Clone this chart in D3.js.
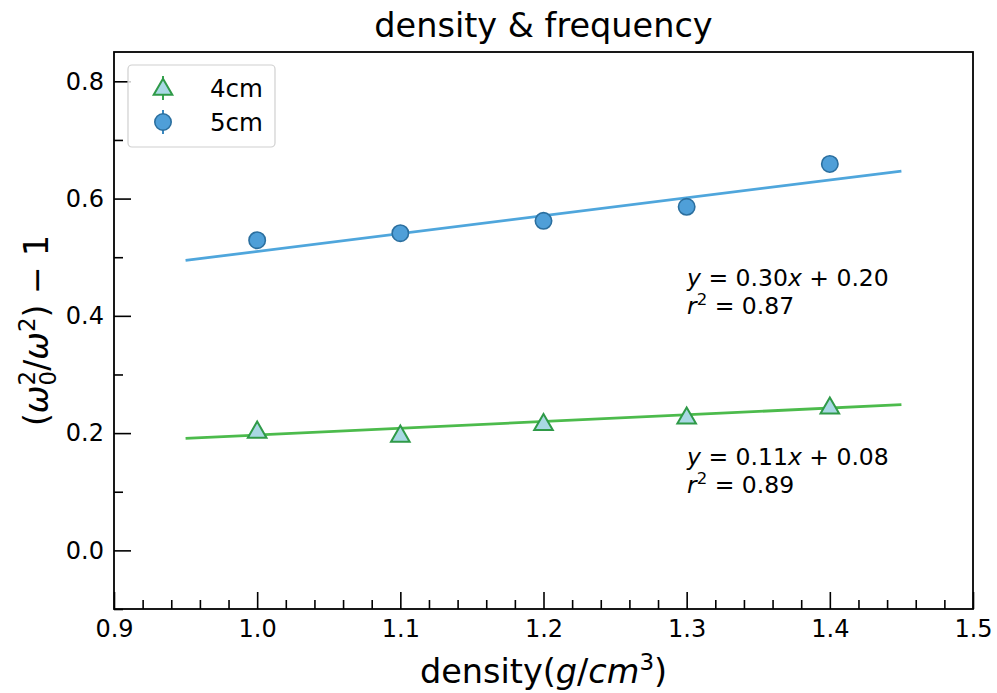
<!DOCTYPE html>
<html>
<head>
<meta charset="utf-8">
<script src="https://cdn.jsdelivr.net/npm/d3@7"></script>
<style>
  html, body { margin: 0; padding: 0; background: #fff; }
  svg { display: block; font-family: "DejaVu Sans", sans-serif; }
</style>
</head>
<body>
<svg id="chart" width="997" height="693"></svg>
<script>
// Measured density values (g/cm^3)
const density = [1.0, 1.1, 1.2, 1.3, 1.4];
// (w0^2 / w^2) - 1 for each tube length
const ratio4cm = [0.204, 0.197, 0.217, 0.228, 0.245];
const ratio5cm = [0.529, 0.541, 0.562, 0.586, 0.659];
const seriesNames = ["4cm", "5cm"];
// Linear fit coefficients and goodness of fit for each series
const fitSlope = [0.1149, 0.3049];
const fitIntercept = [0.0819, 0.2049];
const fitR2 = [0.89, 0.87];
const fitRange = [0.95, 1.45];
// Axis ticks
const xTicks = [0.9, 1.0, 1.1, 1.2, 1.3, 1.4, 1.5];
const yTicks = [0.0, 0.2, 0.4, 0.6, 0.8];

const svg = d3.select("#chart");
const plotLeft = 114, plotRight = 973, plotTop = 52, plotBottom = 609;

const x = d3.scaleLinear().domain([0.9, 1.5]).range([plotLeft, plotRight]);
const y = d3.scaleLinear().domain([-0.1, 0.85]).range([plotBottom, plotTop]);

const fmt = d3.format(".2f");

// Minor ticks
const xMinor = d3.range(0.9, 1.5001, 0.02).filter(v => Math.abs(v * 10 - Math.round(v * 10)) > 1e-6);
const yMinor = [-0.1, 0.1, 0.3, 0.5, 0.7];

const gx = svg.append("g").attr("transform", `translate(0,${plotBottom})`);
gx.call(d3.axisBottom(x).tickValues(xTicks).tickFormat(d3.format(".1f")).tickSizeInner(-17).tickSizeOuter(0).tickPadding(11));
const gxm = svg.append("g").attr("transform", `translate(0,${plotBottom})`);
gxm.call(d3.axisBottom(x).tickValues(xMinor).tickFormat("").tickSizeInner(-9).tickSizeOuter(0));

const gy = svg.append("g").attr("transform", `translate(${plotLeft},0)`);
gy.call(d3.axisLeft(y).tickValues(yTicks).tickFormat(d3.format(".1f")).tickSizeInner(-17).tickSizeOuter(0).tickPadding(10));
const gym = svg.append("g").attr("transform", `translate(${plotLeft},0)`);
gym.call(d3.axisLeft(y).tickValues(yMinor).tickFormat("").tickSizeInner(-9).tickSizeOuter(0));

[gx, gxm, gy, gym].forEach(g => {
  g.select(".domain").remove();
  g.selectAll(".tick line").attr("stroke", "#000").attr("stroke-width", 1.6);
  g.selectAll(".tick text").attr("fill", "#000").attr("font-size", 24)
    .attr("font-family", "DejaVu Sans, sans-serif");
});

// Frame
svg.append("rect")
  .attr("x", plotLeft).attr("y", plotTop)
  .attr("width", plotRight - plotLeft).attr("height", plotBottom - plotTop)
  .attr("fill", "none").attr("stroke", "#000").attr("stroke-width", 1.8);

// Fit lines
const lineColors = ["#4cbb4c", "#4fa6dc"];
const line = d3.line().x(d => x(d[0])).y(d => y(d[1]));
[0, 1].forEach(i => {
  const pts = fitRange.map(v => [v, fitSlope[i] * v + fitIntercept[i]]);
  svg.append("path").attr("d", line(pts))
    .attr("fill", "none").attr("stroke", lineColors[i]).attr("stroke-width", 2.8);
});

// Markers
const tri = d3.symbol().type(d3.symbolTriangle).size(150);
const triPath = tri();
svg.append("g").selectAll("path").data(density.map((d, i) => [d, ratio4cm[i]]))
  .join("path")
  .attr("d", triPath)
  .attr("transform", d => `translate(${x(d[0])},${y(d[1]) + 1.5})`)
  .attr("fill", "#a9d8e4").attr("stroke", "#2f9a48").attr("stroke-width", 2);

svg.append("g").selectAll("circle").data(density.map((d, i) => [d, ratio5cm[i]]))
  .join("circle")
  .attr("cx", d => x(d[0])).attr("cy", d => y(d[1])).attr("r", 8.2)
  .attr("fill", "#4f9fd8").attr("stroke", "#2b6f9f").attr("stroke-width", 1.6);

// Fit annotations: equation line and r^2 line
function annot(i, ax, ay) {
  const t1 = svg.append("text").attr("x", ax).attr("y", ay).attr("font-size", 23.5).attr("fill", "#000");
  t1.append("tspan").attr("font-style", "italic").text("y");
  t1.append("tspan").text(` = ${fmt(fitSlope[i])}`);
  t1.append("tspan").attr("font-style", "italic").text("x");
  t1.append("tspan").text(` + ${fmt(fitIntercept[i])}`);
  const t2 = svg.append("text").attr("x", ax).attr("y", ay + 28.5).attr("font-size", 23.5).attr("fill", "#000");
  t2.append("tspan").attr("font-style", "italic").text("r");
  t2.append("tspan").attr("font-size", 16.5).attr("dy", -9).text("2");
  t2.append("tspan").attr("dy", 9).text(` = ${fmt(fitR2[i])}`);
}
annot(1, 687, 285.5);
annot(0, 687, 464.5);

// Legend
const lg = svg.append("g");
lg.append("rect").attr("x", 128).attr("y", 65).attr("width", 147).attr("height", 82)
  .attr("rx", 4).attr("fill", "#fff").attr("fill-opacity", 0.8)
  .attr("stroke", "#d0d0d0").attr("stroke-width", 1.2);
const legendItems = [
  { name: seriesNames[0], cy: 88 },
  { name: seriesNames[1], cy: 122 }
];
legendItems.forEach((it, i) => {
  const cx = 163;
  lg.append("line").attr("x1", cx).attr("x2", cx).attr("y1", it.cy - 12).attr("y2", it.cy + 12)
    .attr("stroke", i === 0 ? "#3aa552" : "#3a88c0").attr("stroke-width", 2);
  if (i === 0) {
    lg.append("path").attr("d", triPath).attr("transform", `translate(${cx},${it.cy + 1.5})`)
      .attr("fill", "#a9d8e4").attr("stroke", "#2f9a48").attr("stroke-width", 2);
  } else {
    lg.append("circle").attr("cx", cx).attr("cy", it.cy).attr("r", 8.2)
      .attr("fill", "#4f9fd8").attr("stroke", "#2b6f9f").attr("stroke-width", 1.6);
  }
  lg.append("text").attr("x", 210).attr("y", it.cy + 9).attr("font-size", 24.5).attr("fill", "#000").text(it.name);
});

// Title
svg.append("text").attr("x", (plotLeft + plotRight) / 2).attr("y", 37).attr("text-anchor", "middle")
  .attr("font-size", 33.5).attr("fill", "#000").text("density & frequency");

// X axis label
const xl = svg.append("text").attr("x", (plotLeft + plotRight) / 2).attr("y", 683).attr("text-anchor", "middle")
  .attr("font-size", 33.5).attr("fill", "#000");
xl.append("tspan").text("density(");
xl.append("tspan").attr("font-style", "italic").text("g");
xl.append("tspan").text("/");
xl.append("tspan").attr("font-style", "italic").text("cm");
xl.append("tspan").attr("font-size", 23).attr("dy", -13).text("3");
xl.append("tspan").attr("dy", 13).text(")");

// Y axis label
const yl = svg.append("text")
  .attr("transform", `translate(48,${(plotTop + plotBottom) / 2}) rotate(-90)`)
  .attr("text-anchor", "middle").attr("font-size", 33).attr("fill", "#000");
yl.append("tspan").text("(");
yl.append("tspan").attr("font-style", "italic").text("ω");
yl.append("tspan").attr("font-size", 23).attr("dy", -13).text("2");
yl.append("tspan").attr("font-size", 23).attr("dx", -14.6).attr("dy", 21).text("0");
yl.append("tspan").attr("dy", -8).text("/");
yl.append("tspan").attr("font-style", "italic").text("ω");
yl.append("tspan").attr("font-size", 23).attr("dy", -13).text("2");
yl.append("tspan").attr("dy", 13).text(") − 1");
</script>
</body>
</html>
